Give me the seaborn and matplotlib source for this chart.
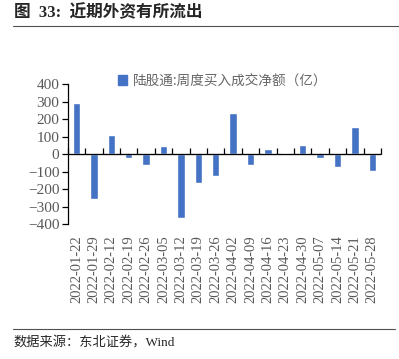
import matplotlib
matplotlib.use("Agg")
import matplotlib.pyplot as plt
import seaborn as sns
import pandas as pd
from matplotlib.lines import Line2D
from matplotlib.patches import Patch

# weekly northbound net buying (100m CNY)
dates = ["2022-01-22", "2022-01-29", "2022-02-12", "2022-02-19", "2022-02-26",
         "2022-03-05", "2022-03-12", "2022-03-19", "2022-03-26", "2022-04-02",
         "2022-04-09", "2022-04-16", "2022-04-23", "2022-04-30", "2022-05-07",
         "2022-05-14", "2022-05-21", "2022-05-28"]
net_buy = [292, -259, 107, -23, -65, 46, -364, -168, -127, 233,
           -65, 29, 3, 51, -22, -74, 154, -95]
yticks = [400, 300, 200, 100, 0, -100, -200, -300, -400]

series_name = "陆股通:周度买入成交净额（亿）"
title = "图  33:  近期外资有所流出"
source = "数据来源：东北证券，Wind"

sns.set_style("white")
plt.rcParams["font.family"] = ["Liberation Serif", "Noto Sans CJK SC"]

bar_color = "#4472C4"
grey = "#595959"

df = pd.DataFrame({"date": dates, "value": net_buy})

fig = plt.figure(figsize=(3.99, 3.59), dpi=100)
ax = fig.add_axes([0.170, 0.376, 0.785, 0.39])

sns.barplot(data=df, x="date", y="value", color=bar_color, width=0.42,
            saturation=1, ax=ax)

ax.set_ylim(-400, 400)
ax.set_xlim(-0.5, len(dates) - 0.5)
ax.set_yticks(yticks)
ax.set_xlabel("")
ax.set_ylabel("")
for s in ["top", "right", "bottom"]:
    ax.spines[s].set_visible(False)
ax.spines["left"].set_color("black")
ax.spines["left"].set_linewidth(0.9)
ax.tick_params(axis="y", direction="out", length=4, width=0.9, color="black",
               labelsize=11, labelcolor=grey, pad=2, left=True)
ax.tick_params(axis="x", length=0, labelsize=10.5, labelcolor=grey,
               pad=8, rotation=90)

# zero line with category boundary ticks
ax.axhline(0, color="black", lw=0.9, zorder=3)
sec = ax.secondary_xaxis(0.5)
sec.set_xticks([i - 0.5 for i in range(len(dates) + 1)])
sec.set_xticklabels([])
sec.spines["bottom"].set_visible(False)
sec.tick_params(direction="out", length=4, width=0.9, color="black")

leg = ax.legend(handles=[Patch(color=bar_color, label=series_name)],
                loc="upper left", bbox_to_anchor=(0.12, 1.16), frameon=False,
                handlelength=0.7, handleheight=0.7, handletextpad=0.4,
                prop={"family": ["Noto Sans CJK SC"], "size": 9.8})
for t in leg.get_texts():
    t.set_color("#666666")

fig.text(0.035, 0.965, title, fontsize=12, fontweight="bold", va="center",
         family=["Liberation Serif", "Noto Sans CJK SC"])
fig.add_artist(Line2D([0.033, 1.0], [0.927, 0.927], color="#505050", lw=0.8))
fig.add_artist(Line2D([0.033, 0.99], [0.084, 0.084], color="#505050", lw=0.8))
fig.text(0.035, 0.045, source, fontsize=9.5, va="center",
         family=["Liberation Serif", "Noto Sans CJK SC"])

fig.savefig("out.png", dpi=100)
